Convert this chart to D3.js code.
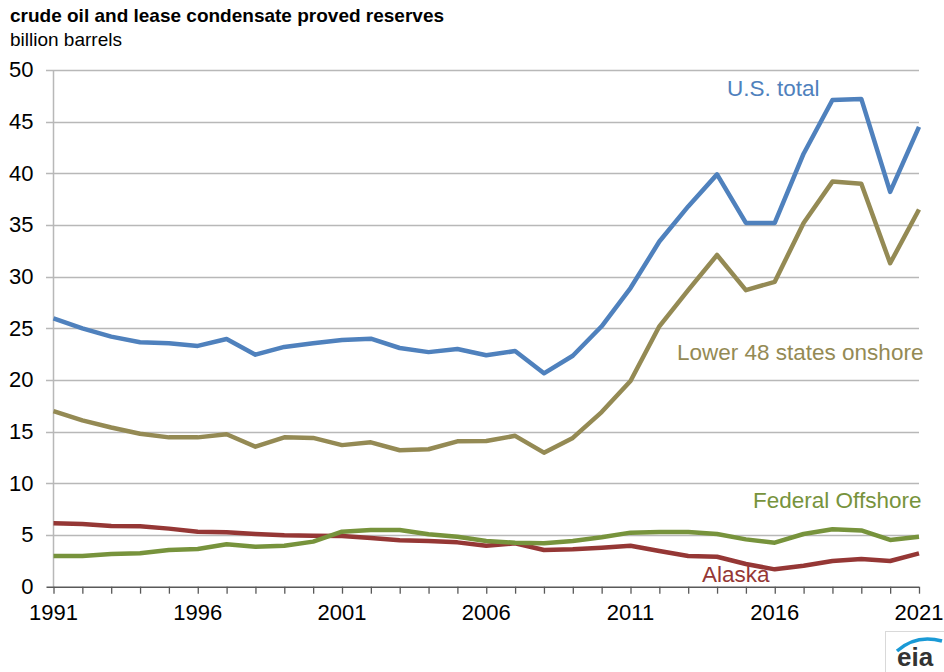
<!DOCTYPE html>
<html><head><meta charset="utf-8">
<script src="https://cdn.jsdelivr.net/npm/d3@7"></script>
<style>body{margin:0;background:#fff;}svg{display:block;font-family:"Liberation Sans",Arial,sans-serif;}</style>
</head><body>
<svg id="c" width="944" height="672"></svg>
<script>
const years = d3.range(1991, 2022);
const usTotal = [25.97,25.0,24.2,23.65,23.55,23.3,23.97,22.45,23.2,23.55,23.87,24.0,23.1,22.7,23.0,22.4,22.8,20.65,22.35,25.2,28.9,33.4,36.8,39.9,35.2,35.2,41.9,47.1,47.2,38.2,44.5];
const lower48 = [17.0,16.1,15.4,14.8,14.45,14.45,14.75,13.55,14.45,14.4,13.7,13.97,13.2,13.3,14.07,14.1,14.6,12.97,14.4,16.9,19.9,25.2,28.7,32.1,28.7,29.5,35.2,39.2,39.0,31.3,36.5];
const fedOffshore = [2.97,2.97,3.16,3.23,3.55,3.65,4.1,3.87,3.97,4.36,5.32,5.49,5.49,5.07,4.84,4.42,4.26,4.2,4.42,4.78,5.23,5.29,5.29,5.1,4.58,4.26,5.1,5.55,5.45,4.52,4.84];
const alaska = [6.13,6.07,5.87,5.84,5.62,5.32,5.26,5.1,4.97,4.94,4.9,4.71,4.49,4.42,4.29,3.97,4.2,3.55,3.62,3.78,3.97,3.45,2.97,2.9,2.2,1.68,2.03,2.49,2.68,2.49,3.23];
const yTicks = [0,5,10,15,20,25,30,35,40,45,50];
const xTickLabels = [1991,1996,2001,2006,2011,2016,2021];
const seriesNames = ["U.S. total","Lower 48 states onshore","Federal Offshore","Alaska"];

const svg = d3.select("#c");
const L = 53.5, R = 919, T = 70, B = 586.7;
const x = d3.scaleLinear().domain([1991,2021]).range([L,R]);
const y = d3.scaleLinear().domain([0,50]).range([B,T]);

svg.append("text").attr("x",10).attr("y",22).attr("font-size",19).attr("font-weight","bold").attr("fill","#000").text("crude oil and lease condensate proved reserves");
svg.append("text").attr("x",10).attr("y",45.5).attr("font-size",19).attr("fill","#000").text("billion barrels");

// grid
const grid = svg.append("g");
grid.selectAll("line").data(yTicks.filter(d=>d>0)).join("line")
  .attr("x1",46).attr("x2",R).attr("y1",d=>Math.round(y(d))+0.5).attr("y2",d=>Math.round(y(d))+0.5)
  .attr("stroke","#b8b8b8").attr("stroke-width",1.3);
// y axis line
svg.append("line").attr("x1",L).attr("x2",L).attr("y1",T).attr("y2",B).attr("stroke","#b8b8b8").attr("stroke-width",1.5);
// y labels
svg.append("g").selectAll("text").data(yTicks).join("text")
  .attr("x",33.5).attr("y",d=>y(d)+7.3).attr("text-anchor","end").attr("font-size",22).attr("fill","#000").text(d=>d);

// x axis
const xAxis = d3.axisBottom(x).tickValues(years).tickSize(7).tickFormat("");
const gx = svg.append("g").attr("transform",`translate(0,${B})`).call(xAxis);
gx.select(".domain").attr("stroke","#595959").attr("stroke-width",1.5).attr("d",`M${L-7},0.5H${R}`);
gx.selectAll(".tick line").attr("stroke","#595959").attr("stroke-width",1.3);
svg.append("g").selectAll("text").data(xTickLabels).join("text")
  .attr("x",d=>x(d)).attr("y",620).attr("text-anchor","middle").attr("font-size",22).attr("fill","#000").text(d=>d);

const line = d3.line().x((d,i)=>x(years[i])).y(d=>y(d));
const series = [
  {v:alaska,c:"#953735"},
  {v:fedOffshore,c:"#77933c"},
  {v:lower48,c:"#948a54"},
  {v:usTotal,c:"#4f81bd"}
];
svg.append("g").selectAll("path").data(series).join("path")
  .attr("d",d=>line(d.v)).attr("fill","none").attr("stroke",d=>d.c).attr("stroke-width",4.5).attr("stroke-linejoin","round");

const labels = [
  {t:seriesNames[0],x:727,y:96,c:"#4f81bd"},
  {t:seriesNames[1],x:677,y:360,c:"#948a54"},
  {t:seriesNames[2],x:753,y:508,c:"#77933c"},
  {t:seriesNames[3],x:702,y:582,c:"#953735"}
];
svg.append("g").selectAll("text").data(labels).join("text")
  .attr("x",d=>d.x).attr("y",d=>d.y).attr("font-size",22.5).attr("fill",d=>d.c).text(d=>d.t);

// eia logo
const lg = svg.append("g");
lg.append("rect").attr("x",885.5).attr("y",631.5).attr("width",62).attr("height",45).attr("fill","#fff").attr("stroke","#d9d9d9");
lg.append("path").attr("d","M897,651 Q916,634 942,641").attr("fill","none").attr("stroke","#1a9ad6").attr("stroke-width",3.5);
lg.append("text").attr("x",897).attr("y",666).attr("font-size",26).attr("font-weight","bold").attr("fill","#333").text("eia");
</script>
</body></html>
